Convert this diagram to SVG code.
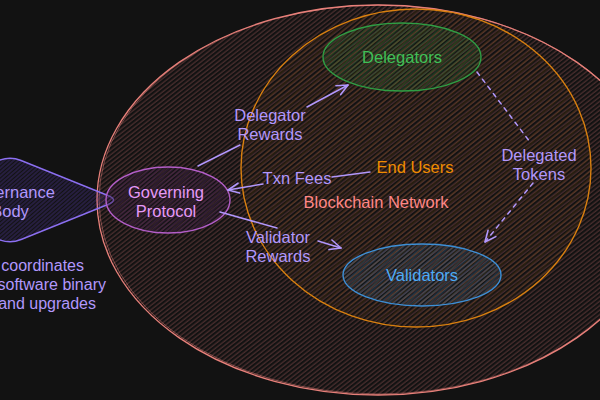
<svg xmlns="http://www.w3.org/2000/svg" width="600" height="400" viewBox="0 0 600 400">
<defs>
<pattern id="hR" width="4" height="3.5" patternUnits="userSpaceOnUse" patternTransform="rotate(-38)"><line x1="0" y1="1" x2="4" y2="1" stroke="#ff8787" stroke-opacity="0.34" stroke-width="0.9"/></pattern>
<pattern id="hO" width="4" height="5" patternUnits="userSpaceOnUse" patternTransform="rotate(-42)"><line x1="0" y1="2" x2="4" y2="2" stroke="#f08c00" stroke-opacity="0.22" stroke-width="0.9"/></pattern>
<pattern id="hG" width="4" height="3" patternUnits="userSpaceOnUse" patternTransform="rotate(-41)"><line x1="0" y1="1" x2="4" y2="1" stroke="#2f9e44" stroke-opacity="0.45" stroke-width="1"/></pattern>
<pattern id="hB" width="4" height="3" patternUnits="userSpaceOnUse" patternTransform="rotate(-41)"><line x1="0" y1="1" x2="4" y2="1" stroke="#4dabf7" stroke-opacity="0.35" stroke-width="1"/></pattern>
<pattern id="hP" width="4" height="3" patternUnits="userSpaceOnUse" patternTransform="rotate(-41)"><line x1="0" y1="1" x2="4" y2="1" stroke="#be4bdb" stroke-opacity="0.3" stroke-width="1"/></pattern>
<pattern id="hV" width="4" height="3" patternUnits="userSpaceOnUse" patternTransform="rotate(-41)"><line x1="0" y1="1" x2="4" y2="1" stroke="#7950f2" stroke-opacity="0.4" stroke-width="1"/></pattern>
<marker id="ah" markerUnits="userSpaceOnUse" markerWidth="16" markerHeight="14" refX="12" refY="7" orient="auto" viewBox="0 0 16 14"><path d="M1,2 L12,7 L1,12" fill="none" stroke="#b197fc" stroke-width="1.6" stroke-linecap="round" stroke-linejoin="round"/></marker>
</defs>
<style>
text{font-family:"Liberation Sans","DejaVu Sans",sans-serif;font-size:16.5px;text-anchor:middle;dominant-baseline:central}
.lav{fill:#b197fc}
.note{text-anchor:end;font-size:16px}
.conn{fill:none;stroke:#b197fc;stroke-width:1.5;stroke-linecap:round}
.dash{stroke-dasharray:4 5}
</style>
<rect width="600" height="400" fill="#121212"/>

<g id="blockchain-outer">
<ellipse cx="378" cy="200" rx="281" ry="195" fill="url(#hR)" stroke="#e8807a" stroke-width="1.3"/>
<ellipse cx="379" cy="199.5" rx="280" ry="194.5" fill="none" stroke="#e8807a" stroke-width="0.8" stroke-opacity="0.6"/>
</g>
<g id="blockchain-network">
<ellipse cx="416" cy="168" rx="175" ry="159" fill="url(#hO)" stroke="#d9800f" stroke-width="1.4"/>
<text x="376" y="202" fill="#ff8787">Blockchain Network</text>
</g>
<g id="governance-body">
<path d="M21.1,160.5 L107.9,195.5 Q119,200 107.9,204.5 L21.1,239.5 Q10,244 -1.1,239.5 L-87.9,204.5 Q-99,200 -87.9,195.5 L-1.1,160.5 Q10,156 21.1,160.5 Z" fill="url(#hV)" stroke="#8b6ff0" stroke-width="1.4"/>
<text x="10" y="192" class="lav">Governance</text>
<text x="10" y="211" class="lav">Body</text>
</g>
<g id="governance-note">
<text x="84" y="265" class="lav note">coordinates</text>
<text x="106" y="284" class="lav note">software binary</text>
<text x="96" y="303" class="lav note">and upgrades</text>
</g>
<g id="governing-protocol">
<ellipse cx="168" cy="200" rx="62" ry="33" fill="#121212" fill-opacity="0.4"/>
<ellipse cx="168" cy="200" rx="62" ry="33" fill="url(#hP)" stroke="#b35ec8" stroke-width="1.4"/>
<text x="166" y="192" fill="#e599f7">Governing</text>
<text x="166" y="211" fill="#e599f7">Protocol</text>
</g>
<g id="delegators">
<ellipse cx="402" cy="57" rx="79" ry="34" fill="url(#hG)" stroke="#2f9e44" stroke-width="1.4"/>
<text x="402" y="57" fill="#40c057">Delegators</text>
</g>
<g id="validators">
<ellipse cx="422" cy="275" rx="79" ry="31" fill="url(#hB)" stroke="#3d8fd6" stroke-width="1.4"/>
<text x="422" y="275" fill="#4dabf7">Validators</text>
</g>
<g id="end-users">
<text x="415" y="167" fill="#f08c00">End Users</text>
</g>

<g id="connectors">
<path class="conn" d="M198,166 L240,145"/>
<path class="conn" d="M307,107 L348,85" marker-end="url(#ah)"/>
<path class="conn" d="M370,172 L332,177"/>
<path class="conn" d="M263,184 L228,190" marker-end="url(#ah)"/>
<path class="conn" d="M220,212 L277,228"/>
<path class="conn" d="M318,241 L341,248" marker-end="url(#ah)"/>
<path class="conn dash" d="M477,72 L530,142"/>
<path class="conn dash" d="M533,183 L485,242" marker-end="url(#ah)"/>
<text x="270" y="115" class="lav">Delegator</text>
<text x="270" y="134" class="lav">Rewards</text>
<text x="297" y="178" class="lav">Txn Fees</text>
<text x="278" y="237" class="lav">Validator</text>
<text x="278" y="256" class="lav">Rewards</text>
<text x="539" y="155" class="lav">Delegated</text>
<text x="539" y="174" class="lav">Tokens</text>
</g>
</svg>
